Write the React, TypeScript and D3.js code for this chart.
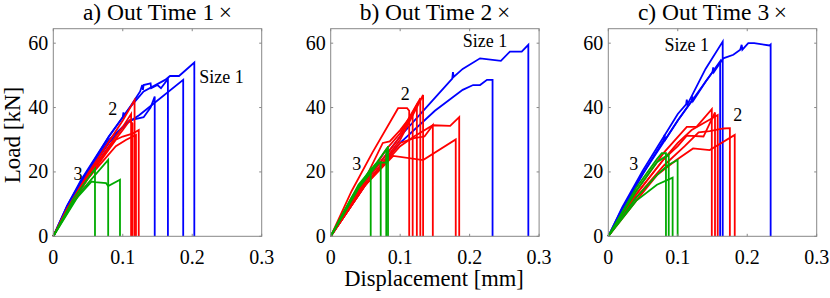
import React from "react";
import * as d3 from "d3";

type Pt = [number, number];

// displacement [mm], load [kN]
const titles = ["a) Out Time 1\u2009\u00d7", "b) Out Time 2\u2009\u00d7", "c) Out Time 3\u2009\u00d7"];
const xTicks = [0, 0.1, 0.2, 0.3];
const yTicks = [0, 20, 40, 60];

const blueA: Pt[][] = [
  [[0, 0], [0.02, 9.5], [0.04, 17.5], [0.08, 31], [0.11, 40], [0.13, 45], [0.161, 48.6], [0.168, 49.8], [0.181, 49.8], [0.203, 54], [0.203, 0]],
  [[0, 0], [0.02, 9], [0.04, 16.5], [0.08, 29], [0.105, 35], [0.124, 37.7], [0.187, 48.6], [0.187, 0]],
  [[0, 0], [0.02, 9.5], [0.04, 17], [0.08, 31], [0.1, 37], [0.101, 38.5], [0.102, 37.5], [0.11, 40], [0.125, 45], [0.128, 47], [0.129, 45.5], [0.13, 47], [0.14, 47.5], [0.141, 46], [0.15, 47], [0.155, 46], [0.165, 48.9], [0.165, 0]],
  [[0, 0], [0.02, 9], [0.04, 16.5], [0.08, 30], [0.11, 36], [0.13, 37], [0.14, 40], [0.146, 43.4], [0.146, 0]],
];
const redA: Pt[][] = [
  [[0, 0], [0.02, 8.5], [0.05, 19.5], [0.1, 36], [0.117, 42.3], [0.117, 0]],
  [[0, 0], [0.02, 8.5], [0.05, 19], [0.1, 34], [0.112, 38], [0.112, 0]],
  [[0, 0], [0.02, 8], [0.05, 18], [0.09, 30], [0.1, 31], [0.115, 32], [0.123, 33], [0.123, 0]],
  [[0, 0], [0.02, 8], [0.05, 18], [0.09, 28], [0.105, 30], [0.119, 31.5], [0.119, 0]],
  [[0, 0], [0.02, 8.5], [0.05, 19], [0.1, 33], [0.11, 36], [0.114, 35], [0.114, 0]],
];
const greenA: Pt[][] = [
  [[0, 0], [0.03, 12], [0.06, 21], [0.06, 0]],
  [[0, 0], [0.04, 14], [0.079, 23.7], [0.079, 0]],
  [[0, 0], [0.03, 11], [0.055, 17], [0.06, 16.8], [0.076, 16.5], [0.079, 15.6], [0.096, 17.6], [0.096, 0]],
];

const blueB: Pt[][] = [
  [[0, 0], [0.05, 17], [0.1, 31], [0.15, 43], [0.175, 49], [0.176, 51], [0.177, 49.5], [0.19, 52], [0.215, 55.3], [0.245, 54.5], [0.258, 57.4], [0.275, 57.4], [0.2845, 59.5], [0.2845, 0]],
  [[0, 0], [0.05, 16], [0.1, 29], [0.15, 39], [0.19, 45.5], [0.205, 47], [0.215, 47], [0.225, 48.6], [0.233, 48.6], [0.233, 0]],
];
const redB: Pt[][] = [
  [[0, 0], [0.03, 14], [0.06, 26], [0.097, 39.8], [0.11, 39.8], [0.113, 39], [0.113, 0]],
  [[0, 0], [0.05, 18], [0.075, 29], [0.085, 29.5], [0.1, 33], [0.118, 38], [0.118, 0]],
  [[0, 0], [0.05, 17], [0.08, 27], [0.1, 32], [0.124, 41], [0.124, 0]],
  [[0, 0], [0.05, 17], [0.1, 31], [0.129, 42.9], [0.129, 0]],
  [[0, 0], [0.05, 16], [0.1, 30], [0.133, 43.9], [0.133, 0]],
  [[0, 0], [0.05, 16], [0.1, 29], [0.12, 30.5], [0.135, 31], [0.147, 34.5], [0.147, 0]],
  [[0, 0], [0.05, 16], [0.09, 25], [0.133, 23.7], [0.18, 30.1], [0.18, 0]],
  [[0, 0], [0.05, 16], [0.1, 28], [0.12, 31], [0.147, 34.5], [0.172, 34.3], [0.185, 37], [0.185, 0]],
];
const greenB: Pt[][] = [
  [[0, 0], [0.03, 12], [0.0576, 21], [0.0576, 0]],
  [[0, 0], [0.04, 16], [0.065, 22.5], [0.072, 23], [0.072, 0]],
  [[0, 0], [0.04, 15], [0.07, 24], [0.08, 27], [0.08, 0]],
  [[0, 0], [0.04, 15], [0.07, 23], [0.072, 22.9], [0.08, 22.9], [0.0825, 28], [0.0825, 0]],
];

const blueC: Pt[][] = [
  [[0, 0], [0.02, 9], [0.05, 20.5], [0.1, 38], [0.112, 41], [0.113, 42.5], [0.114, 41], [0.14, 52], [0.1647, 60.5], [0.1647, 0]],
  [[0, 0], [0.02, 8.5], [0.05, 19.5], [0.08, 30], [0.081, 31.5], [0.082, 30], [0.1, 36], [0.12, 42], [0.121, 43.5], [0.122, 42], [0.14, 48], [0.15, 51], [0.151, 52.5], [0.152, 51], [0.1655, 55.3], [0.18, 56.4], [0.19, 58], [0.192, 59.5], [0.193, 58], [0.2015, 60], [0.21, 60], [0.232, 59.3], [0.2337, 59.6], [0.2337, 0]],
  [[0, 0], [0.02, 8.5], [0.05, 19.5], [0.1, 36], [0.14, 48], [0.161, 54.4], [0.161, 0]],
];
const redC: Pt[][] = [
  [[0, 0], [0.04, 14], [0.08, 26], [0.113, 34], [0.127, 34], [0.149, 39.5], [0.149, 0]],
  [[0, 0], [0.04, 13], [0.08, 24], [0.1, 28], [0.113, 31.3], [0.137, 31], [0.1536, 38.5], [0.1536, 0]],
  [[0, 0], [0.04, 13], [0.08, 24], [0.1, 29], [0.12, 33], [0.1575, 37.7], [0.1575, 0]],
  [[0, 0], [0.04, 12], [0.08, 22], [0.11, 28], [0.13, 32.3], [0.146, 32.7], [0.166, 33.5], [0.175, 33.6], [0.175, 0]],
  [[0, 0], [0.04, 11], [0.07, 19], [0.098, 23.7], [0.122, 27.3], [0.146, 26.8], [0.182, 31.5], [0.182, 0]],
];
const greenC: Pt[][] = [
  [[0, 0], [0.04, 15], [0.07, 24], [0.077, 25.8], [0.083, 25.8], [0.083, 0]],
  [[0, 0], [0.04, 14], [0.07, 23], [0.087, 25.5], [0.087, 0]],
  [[0, 0], [0.04, 11], [0.07, 16], [0.0926, 18.2], [0.0926, 0]],
  [[0, 0], [0.04, 12], [0.07, 19], [0.085, 22], [0.0998, 23.7], [0.0998, 0]],
];

// size labels: [text, displacement, load] anchor (left, baseline)
const labelsA: [string, number, number][] = [["Size 1", 0.21, 47.5], ["2", 0.079, 37.7], ["3", 0.029, 17.5]];
const labelsB: [string, number, number][] = [["Size 1", 0.19, 58.8], ["2", 0.101, 42.3], ["3", 0.031, 20.6]];
const labelsC: [string, number, number][] = [["Size 1", 0.081, 57.6], ["2", 0.18, 35.8], ["3", 0.03, 20.6]];

const panels = [
  { title: titles[0], left: 53.3, blue: blueA, red: redA, green: greenA, labels: labelsA },
  { title: titles[1], left: 330.7, blue: blueB, red: redB, green: greenB, labels: labelsB },
  { title: titles[2], left: 608.3, blue: blueC, red: redC, green: greenC, labels: labelsC },
];

const W = 830;
const H = 298;
const plotW = 208.4;
const top = 28.7;
const bottom = 236.3;
const font = "Liberation Serif";
const axisColor = "#888";

function Panel({ p }: { p: (typeof panels)[number] }) {
  const x = d3.scaleLinear([0, 0.3], [p.left, p.left + plotW]);
  const y = d3.scaleLinear([0, 64.5], [bottom, top]);
  const line = d3.line<Pt>().x(d => x(d[0])).y(d => y(d[1]));
  const right = p.left + plotW;
  return (
    <g>
      <text x={(p.left + right) / 2} y={20} textAnchor="middle" fontSize={23.5} fontFamily={font}>{p.title}</text>
      {p.blue.map((c, i) => <path key={"b" + i} d={line(c) ?? ""} fill="none" stroke="#0000ff" strokeWidth={1.8} />)}
      {p.red.map((c, i) => <path key={"r" + i} d={line(c) ?? ""} fill="none" stroke="#ff0000" strokeWidth={1.8} />)}
      {p.green.map((c, i) => <path key={"g" + i} d={line(c) ?? ""} fill="none" stroke="#00aa00" strokeWidth={1.8} />)}
      <rect x={p.left} y={top} width={plotW} height={bottom - top} fill="none" stroke={axisColor} strokeWidth={1} />
      {xTicks.map(t => (
        <g key={"x" + t}>
          <line x1={x(t)} x2={x(t)} y1={bottom} y2={bottom - 2.5} stroke={axisColor} />
          <line x1={x(t)} x2={x(t)} y1={top} y2={top + 2.5} stroke={axisColor} />
          <text x={x(t)} y={264} textAnchor="middle" fontSize={20} fontFamily={font}>{t}</text>
        </g>
      ))}
      {yTicks.map(t => (
        <g key={"y" + t}>
          <line x1={p.left} x2={p.left + 2.5} y1={y(t)} y2={y(t)} stroke={axisColor} />
          <line x1={right} x2={right - 2.5} y1={y(t)} y2={y(t)} stroke={axisColor} />
          <text x={p.left - 5} y={y(t) + 6.5} textAnchor="end" fontSize={20} fontFamily={font}>{t}</text>
        </g>
      ))}
      {p.labels.map(([s, dx, ly]) => (
        <text key={s} x={x(dx)} y={y(ly)} fontSize={18} fontFamily={font}>{s}</text>
      ))}
    </g>
  );
}

export default function App() {
  return (
    <div style={{ position: "absolute", left: 0, top: 0 }}>
      <svg width={W} height={H} viewBox={`0 0 ${W} ${H}`} style={{ display: "block", background: "#fff" }}>
        {panels.map(p => <Panel key={p.title} p={p} />)}
        <text transform={`translate(20,135) rotate(-90)`} textAnchor="middle" fontSize={23} fontFamily={font}>Load [kN]</text>
        <text x={434} y={286} textAnchor="middle" fontSize={22.5} fontFamily={font}>Displacement [mm]</text>
      </svg>
    </div>
  );
}
